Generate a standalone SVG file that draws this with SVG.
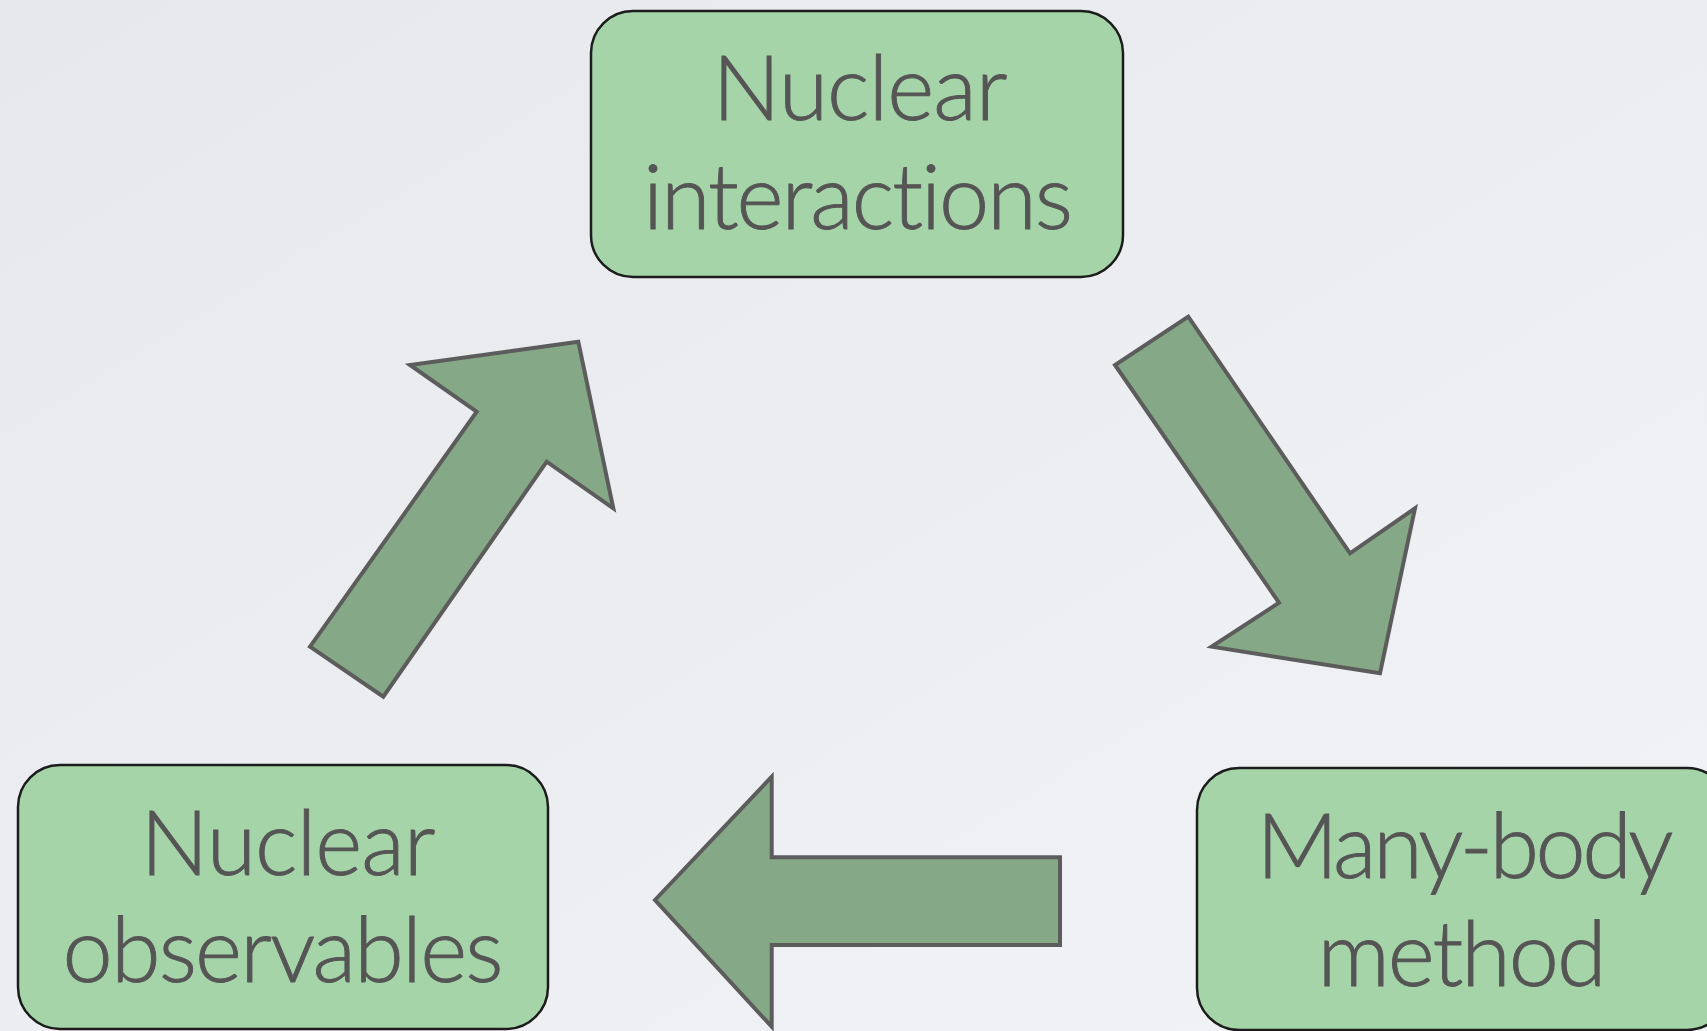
<svg xmlns="http://www.w3.org/2000/svg" width="1707" height="1031" viewBox="0 0 1707 1031">
  <defs>
    <linearGradient id="bg" x1="0" y1="0" x2="1" y2="1">
      <stop offset="0" stop-color="#e6e8eb"/>
      <stop offset="1" stop-color="#f2f3f6"/>
    </linearGradient>
    <style>
      .box { fill: #a6d4a9; stroke: #1c1c1c; stroke-width: 2.5; }
      .lbl { font-family: "Lato", "Open Sans", "Liberation Sans", sans-serif; font-weight: 300; font-size: 90px; fill: #555555; stroke: #555555; stroke-width: 0.9; text-anchor: middle; font-variant-ligatures: none; font-feature-settings: "liga" 0, "clig" 0, "dlig" 0; }
      .arrow { fill: #85a887; stroke: #5c5c5c; stroke-width: 4; stroke-linejoin: miter; }
    </style>
  </defs>
  <rect x="0" y="0" width="1707" height="1031" fill="url(#bg)"/>

  <g id="node-interactions">
    <rect class="box" x="591" y="11" width="532" height="266" rx="42" ry="42"/>
    <text class="lbl" x="860" y="120" textLength="295" lengthAdjust="spacing">Nuclear</text>
    <text class="lbl" x="858" y="229" textLength="430" lengthAdjust="spacing">interactions</text>
  </g>

  <g id="node-observables">
    <rect class="box" x="18" y="765" width="530" height="264" rx="42" ry="42"/>
    <text class="lbl" x="288" y="875" textLength="295" lengthAdjust="spacing">Nuclear</text>
    <text class="lbl" x="283" y="982" textLength="441" lengthAdjust="spacing">observables</text>
  </g>

  <g id="node-manybody">
    <rect class="box" x="1197" y="768" width="532" height="262" rx="42" ry="42"/>
    <text class="lbl" x="1465" y="878" textLength="417" lengthAdjust="spacing">Many-body</text>
    <text class="lbl" x="1462" y="986" textLength="289" lengthAdjust="spacing">method</text>
  </g>

  <g id="connectors">
    <polygon class="arrow" points="1188.3,316.7 1115,365 1279,602.7 1211.7,646.7 1380,673.3 1415,508.3 1350,553.3"/>
    <polygon class="arrow" points="655,900 771.7,776.7 771.7,857.3 1060,857.3 1060,945 771.7,945 771.7,1026.7"/>
    <polygon class="arrow" points="310,646.7 383.3,696.7 546.7,461.7 613.3,508.3 578.3,341.7 410,365 476.7,411.7"/>
  </g>
</svg>
